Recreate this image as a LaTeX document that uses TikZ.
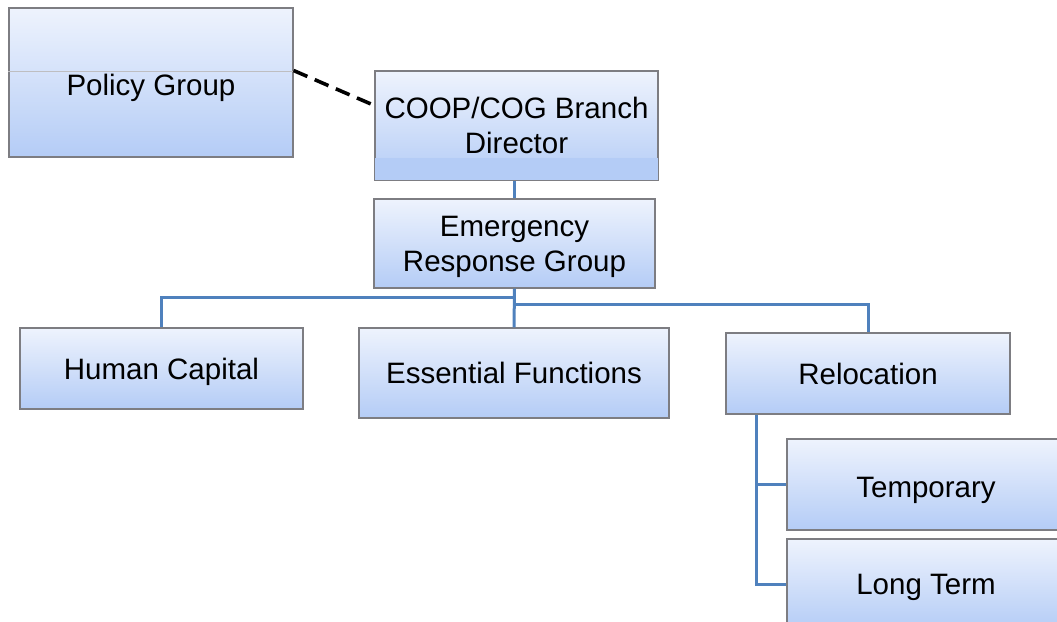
\documentclass[tikz,border=0pt]{standalone}
\usepackage{fontspec}
\setmainfont{Liberation Sans}
\usetikzlibrary{shadows}

\definecolor{boxtop}{RGB}{238,243,253}
\definecolor{boxbot}{RGB}{180,204,246}
\definecolor{boxedge}{RGB}{125,125,130}
\definecolor{linkblue}{RGB}{79,129,189}

\begin{document}
\begin{tikzpicture}[x=1pt, y=-1pt,
  every node/.style={font=\fontsize{29.5}{35}\selectfont, align=center, inner sep=0pt, text depth=0pt},
  orgbox/.style={draw=boxedge, line width=1.2pt, top color=boxtop, bottom color=boxbot,
    drop shadow={shadow xshift=1.2pt, shadow yshift=-1.2pt, fill=gray!55}},
  link/.style={draw=linkblue, line width=3pt}]

\useasboundingbox (0,0) rectangle (1057,621);

\node[orgbox, minimum width=284pt, minimum height=149pt] (policy) at (151,82.5) {\raisebox{-4pt}{Policy Group}};
\draw[boxedge!50, line width=0.8pt] ([yshift=11.5pt]policy.west) -- ([yshift=11.5pt]policy.east);

\node[orgbox, minimum width=283pt, minimum height=109pt] (director) at (516.5,125.5) {COOP/COG Branch\\Director};
\fill[boxbot] ([shift={(0.6pt,23pt)}]director.south west) rectangle ([shift={(-0.6pt,0.6pt)}]director.south east);
\node[orgbox, minimum width=281pt, minimum height=89pt] (ergroup) at (514.5,243.5) {Emergency\\Response Group};

\node[orgbox, minimum width=283pt, minimum height=81pt] (human) at (161.5,368.5) {Human Capital};
\node[orgbox, minimum width=310pt, minimum height=90pt] (essential) at (514,373) {Essential Functions};
\node[orgbox, minimum width=284pt, minimum height=81pt] (relocation) at (868,373.5) {Relocation};

\node[orgbox, minimum width=278pt, minimum height=91pt] (temporary) at (926,484.5) {\raisebox{-5pt}{Temporary}};
\node[orgbox, minimum width=278pt, minimum height=91pt] (longterm) at (926,584.5) {Long Term};

\coordinate (hubL) at (514,297);
\coordinate (hubR) at (514,304);
\coordinate (spine) at (756,0);

\draw[link] (ergroup.north) -- (ergroup.north |- director.south);
\draw[link] (ergroup.south) -- (essential.north);
\draw[link] (human.north) |- (hubL);
\draw[link] (hubR) -| (relocation.north);
\draw[link] (relocation.south -| spine) |- (longterm.west);
\draw[link] (spine |- temporary.west) -- (temporary.west);

\draw[line width=3.6pt, dash pattern=on 15pt off 8pt] ([yshift=12pt]policy.east) -- ([yshift=20pt]director.west);
\end{tikzpicture}
\end{document}
